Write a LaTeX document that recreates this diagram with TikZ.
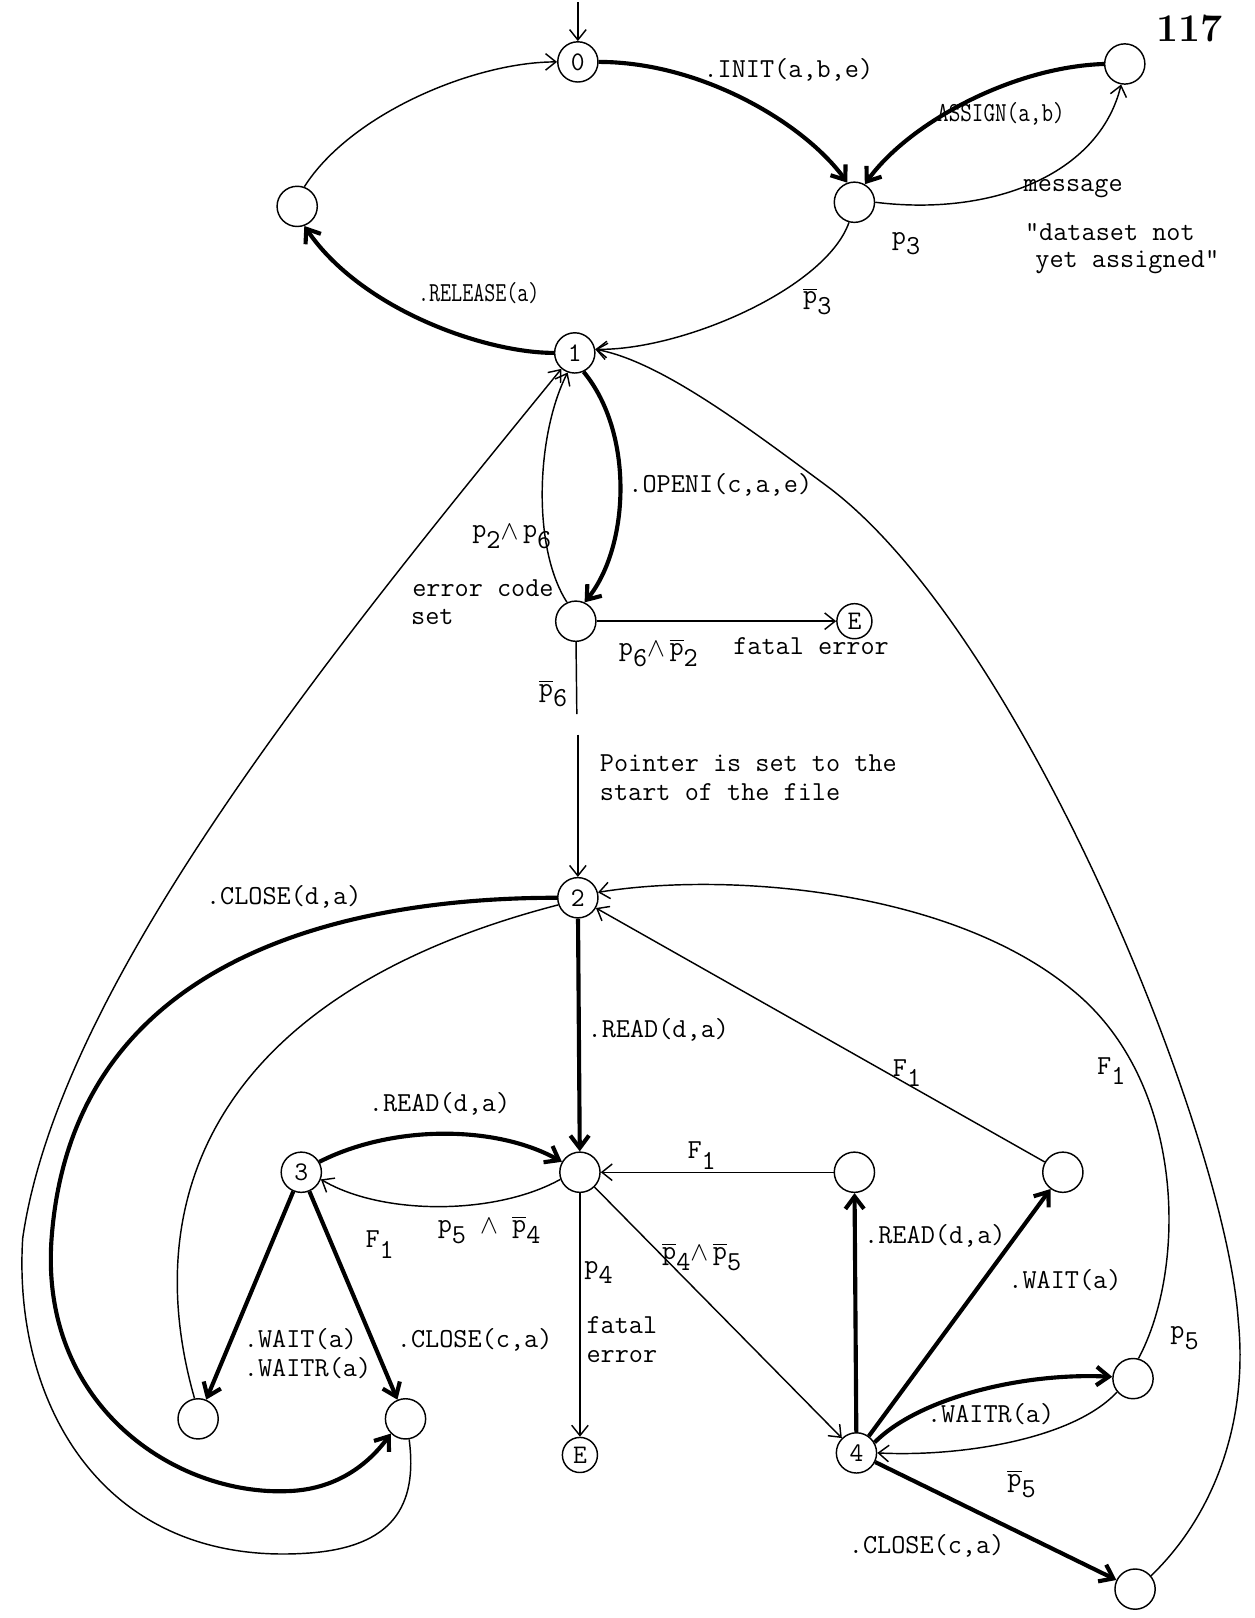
\documentclass[tikz,border=0pt]{standalone}
\usepackage{graphicx}
\usetikzlibrary{arrows.meta}
\newcommand{\sbs}[1]{\raisebox{-0.9ex}{#1}}
\newcommand{\pbar}{\ensuremath{\overline{\mbox{p}}}}
\newcommand{\andsym}{\raisebox{-0.1ex}{\scalebox{0.9}{$\wedge$}}}
\begin{document}
\begin{tikzpicture}[x=0.5pt,y=-0.5pt,
  st/.style={circle,draw,line width=0.7pt,minimum size=19.5pt,inner sep=0pt,font=\fontsize{13}{13}\selectfont\ttfamily},
  est/.style={st,minimum size=17pt},
  edg/.style={line width=0.7pt,-{Straight Barb[length=5pt,width=8pt]}},
  bedg/.style={line width=2pt,-{Straight Barb[length=6pt,width=9pt]}},
  pl/.style={line width=0.7pt},
  lbl/.style={font=\fontsize{13.3}{14}\selectfont\ttfamily,inner sep=0pt},
]
\useasboundingbox (0,0) rectangle (1216,1568);
\fill[white] (0,0) rectangle (1216,1568);

% states
\node[st] (n0) at (560,60) {0};
\node[st] (nA) at (1090,62) {};
\node[st] (nL) at (288,200) {};
\node[st] (nP3) at (828,196) {};
\node[st] (n1) at (557,342) {1};
\node[st] (nX) at (558,602) {};
\node[est] (E1) at (828,602) {E};
\node[st] (n2) at (560,870) {2};
\node[st] (nC) at (562,1136) {};
\node[st] (n3) at (292,1136) {3};
\node[st] (nWL) at (192,1375) {};
\node[st] (nCL) at (393,1375) {};
\node[est] (E2) at (562,1410) {E};
\node[st] (nR1) at (828,1136) {};
\node[st] (nR2) at (1030,1136) {};
\node[st] (n4) at (830,1408) {4};
\node[st] (nP5) at (1098,1336) {};
\node[st] (nBR) at (1100,1540) {};

\coordinate (start) at (560,2);
\coordinate (g1) at (559,692);
\coordinate (g2) at (560,712);

% edges top
\draw[edg] (start) -- (n0);
\draw[bedg] (n0.0) .. controls (680,60) and (780,120) .. (nP3.110);
\draw[bedg] (nA.180) .. controls (980,65) and (880,120) .. (nP3.60);
\draw[edg] (nP3.0) .. controls (960,210) and (1065,170) .. (nA.-100);
\draw[edg] (nP3.-105) .. controls (800,280) and (660,340) .. (n1.10);
\draw[bedg] (n1.180) .. controls (470,342) and (350,300) .. (nL.-70);
\draw[edg] (nL.70) .. controls (340,110) and (460,60) .. (n0.180);
\draw[bedg] (n1.-65) .. controls (615,420) and (610,530) .. (nX.65);
\draw[edg] (nX.115) .. controls (515,530) and (520,420) .. (n1.-110);
\draw[edg] (nX) -- (E1);
\draw[pl] (nX) -- (g1);
\draw[edg] (g2) -- (n2);

% middle
\draw[bedg] (n2) -- (nC);
\draw[bedg] (n3.30) .. controls (380,1090) and (480,1090) .. (nC.150);
\draw[edg] (nC.-160) .. controls (480,1178) and (370,1178) .. (n3.-20);
\draw[edg] (nR1) -- (nC);
\draw[edg] (nC) -- (n4);
\draw[edg] (nC) -- (E2);
\draw[bedg] (n3) -- (nWL);
\draw[bedg] (n3) -- (nCL);
\draw[bedg] (n2.180) .. controls (330,870) and (70,930) .. (50,1200)
  .. controls (38,1362) and (170,1450) .. (280,1445)
  .. controls (330,1443) and (360,1415) .. (nCL.-135);
\draw[pl] (nWL.100) .. controls (130,1150) and (220,960) .. (n2.200);
\draw[edg] (nCL.-80) .. controls (405,1460) and (380,1499) .. (300,1505)
  .. controls (100,1520) and (12,1360) .. (22,1200)
  .. controls (58,950) and (330,620) .. (n1.230);

% right
\draw[edg] (nBR.40) .. controls (1175,1470) and (1210,1380) .. (1200,1280)
  .. controls (1188,1100) and (990,610) .. (800,470)
  .. controls (724,414) and (640,350) .. (n1.10);
\draw[edg] (nP5.75) .. controls (1150,1230) and (1150,1050) .. (1040,960)
  .. controls (920,860) and (700,845) .. (n2.15);
\draw[edg] (nR2) -- (n2);
\draw[bedg] (n4) -- (nR1);
\draw[bedg] (n4) -- (nR2);
\draw[bedg] (n4.30) .. controls (890,1355) and (990,1330) .. (nP5.175);
\draw[edg] (nP5.-140) .. controls (1040,1395) and (930,1412) .. (n4.0);
\draw[bedg] (n4) -- (nBR);

% labels
\node[font=\fontsize{19}{19}\selectfont\bfseries] (pg) at (1153,28) {117};
\node[lbl] (l1) at (764,68) {.INIT(a,b,e)};
\node[lbl] (l2) at (970,110) {\scalebox{0.82}[1]{ASSIGN(a,b)}};
\node[lbl] (l3) at (1040,183) {message};
\node[lbl,anchor=west] (l4) at (993,225) {"dataset not};
\node[lbl,anchor=west] (l5) at (1003,254) {yet assigned"};
\node[lbl] (l6) at (878,236) {p\sbs{3}};
\node[lbl] (l7) at (792,292) {\pbar\sbs{3}};
\node[lbl] (l8) at (464,284) {\scalebox{0.78}[1]{.RELEASE(a)}};
\node[lbl] (l9) at (698,470) {.OPENI(c,a,e)};
\node[lbl] (l10) at (496,520) {p\sbs{2}\andsym\,p\sbs{6}};
\node[lbl] (l11) at (468,570) {error code};
\node[lbl] (l12) at (419,598) {set};
\node[lbl] (l13) at (638,633) {p\sbs{6}\andsym\,\pbar\sbs{2}};
\node[lbl] (l14) at (786,626) {fatal error};
\node[lbl] (l15) at (536,672) {\pbar\sbs{6}};
\node[lbl,anchor=west,align=left] (l16) at (581,754) {Pointer is set to the\\start of the file};
\node[lbl] (l17) at (275,869) {.CLOSE(d,a)};
\node[lbl] (l18) at (638,998) {.READ(d,a)};
\node[lbl] (l19) at (426,1070) {.READ(d,a)};
\node[lbl] (l20) at (879,1040) {F\sbs{1}};
\node[lbl] (l21) at (1077,1038) {F\sbs{1}};
\node[lbl] (l22) at (680,1120) {F\sbs{1}};
\node[lbl] (l23) at (368,1206) {F\sbs{1}};
\node[lbl] (l24) at (474,1192) {p\sbs{5} \andsym\ \pbar\sbs{4}};
\node[lbl] (l25) at (680,1218) {\pbar\sbs{4}\andsym\,\pbar\sbs{5}};
\node[lbl] (l26) at (580,1233) {p\sbs{4}};
\node[lbl,anchor=west,align=left] (l27) at (568,1298) {fatal\\error};
\node[lbl] (l28) at (906,1198) {.READ(d,a)};
\node[lbl] (l29) at (1032,1241) {.WAIT(a)};
\node[lbl] (l30) at (1148,1297) {p\sbs{5}};
\node[lbl,anchor=west,align=left] (l31) at (236,1312) {.WAIT(a)\\.WAITR(a)};
\node[lbl] (l32) at (460,1298) {.CLOSE(c,a)};
\node[lbl] (l33) at (960,1370) {.WAITR(a)};
\node[lbl] (l34) at (990,1438) {\pbar\sbs{5}};
\node[lbl] (l35) at (898,1498) {.CLOSE(c,a)};
\end{tikzpicture}
\end{document}
